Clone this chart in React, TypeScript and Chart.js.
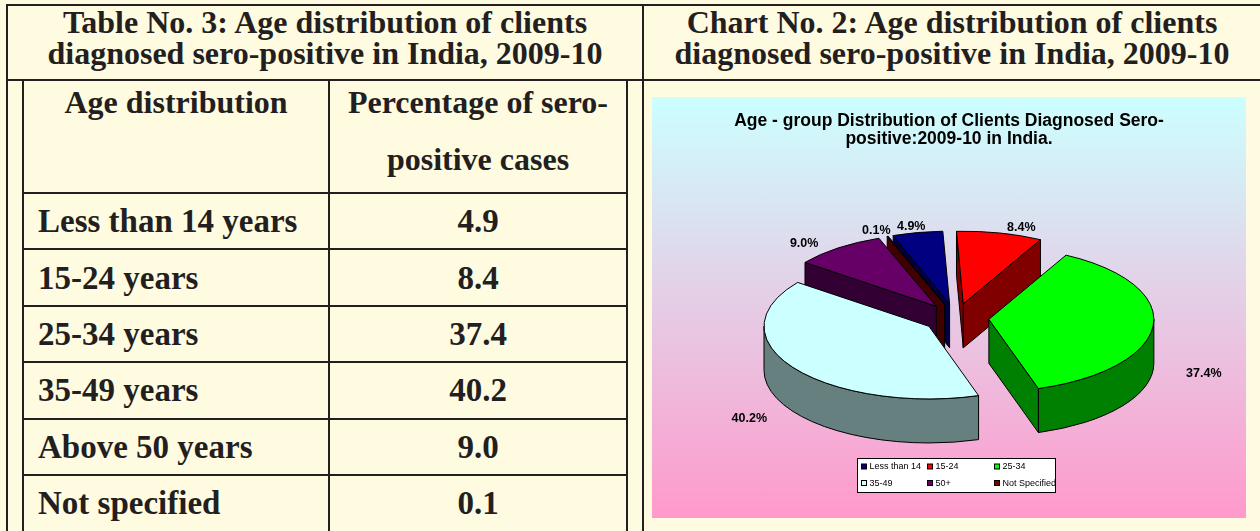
import React, { useEffect, useRef } from 'react';
import { Chart, registerables } from 'chart.js';

Chart.register(...registerables);

// ---------------- data ----------------
const categories = ['Less than 14', '15-24', '25-34', '35-49', '50+', 'Not Specified'];
const percentages = [4.9, 8.4, 37.4, 40.2, 9.0, 0.1];
const tableRowLabels = [
  'Less than 14 years',
  '15-24 years',
  '25-34 years',
  '35-49 years',
  'Above 50 years',
  'Not specified',
];
const tableTitleLines = ['Table No. 3: Age distribution of clients', 'diagnosed sero-positive in India, 2009-10'];
const chartPanelTitleLines = ['Chart No. 2: Age distribution of clients', 'diagnosed sero-positive in India, 2009-10'];
const headerCol1 = ['Age distribution'];
const headerCol2 = ['Percentage of sero-', 'positive cases'];
const chartTitleLines = ['Age - group Distribution of Clients Diagnosed Sero-', 'positive:2009-10 in India.'];
const sliceColors = ['#000080', '#FF0000', '#00FF00', '#CCFFFF', '#660066', '#800000'];
const sideColors = ['#000040', '#800000', '#008000', '#668080', '#330033', '#400000'];

// ---------------- styling constants ----------------
const LINE = '#231F20';
const CREAM = '#FFFBE1';
const SERIF = '"Liberation Serif", "Times New Roman", serif';
const SANS = '"Liberation Sans", Arial, sans-serif';
const TILT = 0.44;
const DEPTH = 44;

const pie3dPlugin = {
  id: 'pie3d',
  beforeDatasetsDraw(chart: any) {
    const meta = chart.getDatasetMeta(0);
    const ctx = chart.ctx as CanvasRenderingContext2D;
    const slices = meta.data.map((arc: any, i: number) => {
      const p = arc.getProps(['x', 'y', 'startAngle', 'endAngle', 'outerRadius'], true);
      const off = arc.options.offset || 0;
      const mid = (p.startAngle + p.endAngle) / 2;
      return {
        i,
        s: p.startAngle,
        e: p.endAngle,
        R: p.outerRadius,
        mid,
        cx: p.x + Math.cos(mid) * off,
        cy: p.y + TILT * Math.sin(mid) * off,
      };
    });
    slices.sort((a: any, b: any) => Math.sin(a.mid) - Math.sin(b.mid));
    ctx.save();
    ctx.lineWidth = 1;
    ctx.strokeStyle = '#000';
    ctx.lineJoin = 'round';
    for (const sl of slices) {
      const { cx, cy, R, s, e, i } = sl;
      const ry = R * TILT;
      const px = (a: number) => cx + R * Math.cos(a);
      const py = (a: number) => cy + ry * Math.sin(a);
      ctx.fillStyle = sideColors[i];
      const face = (a: number) => {
        ctx.beginPath();
        ctx.moveTo(cx, cy);
        ctx.lineTo(px(a), py(a));
        ctx.lineTo(px(a), py(a) + DEPTH);
        ctx.lineTo(cx, cy + DEPTH);
        ctx.closePath();
        ctx.fill();
        ctx.stroke();
      };
      if (Math.cos(s) < 0) face(s);
      if (Math.cos(e) > 0) face(e);
      for (const k of [-2, 0, 2]) {
        const a = Math.max(s, k * Math.PI);
        const b = Math.min(e, (k + 1) * Math.PI);
        if (b > a) {
          ctx.beginPath();
          ctx.ellipse(cx, cy, R, ry, 0, a, b);
          ctx.lineTo(px(b), py(b) + DEPTH);
          ctx.ellipse(cx, cy + DEPTH, R, ry, 0, b, a, true);
          ctx.closePath();
          ctx.fill();
          ctx.stroke();
        }
      }
      ctx.fillStyle = sliceColors[i];
      ctx.beginPath();
      ctx.moveTo(cx, cy);
      ctx.ellipse(cx, cy, R, ry, 0, s, e);
      ctx.closePath();
      ctx.fill();
      ctx.stroke();
    }
    ctx.restore();
    return false;
  },
  afterDraw(chart: any) {
    const ctx = chart.ctx as CanvasRenderingContext2D;
    const meta = chart.getDatasetMeta(0);
    const W = chart.width;
    ctx.save();
    // chart title
    ctx.fillStyle = '#000';
    ctx.font = `bold 17.5px ${SANS}`;
    ctx.textAlign = 'center';
    ctx.textBaseline = 'middle';
    chartTitleLines.forEach((t, k) => ctx.fillText(t, W / 2, 24 + k * 18));

    // data labels
    ctx.font = `bold 12.5px ${SANS}`;
    meta.data.forEach((arc: any, i: number) => {
      const p = arc.getProps(['x', 'y', 'startAngle', 'endAngle', 'outerRadius'], true);
      const m = (p.startAngle + p.endAngle) / 2;
      const sn = Math.sin(m);
      const cs = Math.cos(m);
      const x = p.x + 1.4 * p.outerRadius * cs;
      const y = p.y + 0.564 * p.outerRadius * sn + (sn > 0 ? DEPTH + 3 : 0);
      ctx.textAlign = cs > 0.15 ? 'left' : cs < -0.4 ? 'right' : 'center';
      ctx.fillText(percentages[i].toFixed(1) + '%', x, y);
    });

    // legend
    const cx = meta.data[0].x;
    const boxW = 198;
    const boxH = 34;
    const bx = Math.round(cx - boxW / 2) + 0.5;
    const by = 361.5;
    ctx.fillStyle = '#fff';
    ctx.fillRect(bx, by, boxW, boxH);
    ctx.strokeStyle = '#000';
    ctx.lineWidth = 1;
    ctx.strokeRect(bx, by, boxW, boxH);
    ctx.font = `9px ${SANS}`;
    ctx.textAlign = 'left';
    ctx.textBaseline = 'middle';
    const colX = [4, 70, 137];
    categories.forEach((c, i) => {
      const col = i % 3;
      const row = Math.floor(i / 3);
      const sx = bx + colX[col];
      const sy = by + 8.5 + row * 16.5;
      ctx.fillStyle = sliceColors[i];
      ctx.fillRect(sx, sy - 3, 5, 5);
      ctx.strokeStyle = '#000';
      ctx.strokeRect(sx, sy - 3, 5, 5);
      ctx.fillStyle = '#000';
      ctx.fillText(c, sx + 8, sy);
    });
    ctx.restore();
  },
};

function PieChart() {
  const ref = useRef<HTMLCanvasElement | null>(null);
  useEffect(() => {
    if (!ref.current) return;
    const chart = new Chart(ref.current, {
      type: 'pie',
      data: {
        labels: categories,
        datasets: [
          {
            data: percentages,
            backgroundColor: sliceColors,
            borderColor: '#000',
            borderWidth: 1,
            offset: 33,
          } as any,
        ],
      },
      options: {
        animation: false,
        responsive: true,
        maintainAspectRatio: false,
        events: [],
        rotation: -20,
        radius: 165,
        layout: { padding: { left: 14, top: 21, right: 0, bottom: 0 } },
        plugins: {
          legend: { display: false },
          title: { display: false },
          tooltip: { enabled: false },
        },
      } as any,
      plugins: [pie3dPlugin],
    });
    return () => chart.destroy();
  }, []);
  return (
    <div
      style={{
        position: 'absolute',
        left: 652,
        top: 97,
        width: 594,
        height: 421,
        background: 'linear-gradient(#CCFFFF, #FF99CC)',
      }}
    >
      <canvas ref={ref} />
    </div>
  );
}

const HL = ({ x, y, w }: { x: number; y: number; w: number }) => (
  <div style={{ position: 'absolute', left: x, top: y, width: w, height: 2, background: LINE }} />
);
const VL = ({ x, y, h }: { x: number; y: number; h: number }) => (
  <div style={{ position: 'absolute', left: x, top: y, width: 2, height: h, background: LINE }} />
);

const textBase: React.CSSProperties = {
  position: 'absolute',
  fontFamily: SERIF,
  fontWeight: 'bold',
  fontSize: 32,
  color: LINE,
  whiteSpace: 'nowrap',
};

export default function App() {
  const rowTop = 192;
  const rowH = 56.4;
  return (
    <div
      style={{
        position: 'fixed',
        left: 0,
        top: 0,
        width: 1260,
        height: 531,
        background: CREAM,
        overflow: 'hidden',
      }}
    >
      {/* frame */}
      <HL x={6} y={4} w={1260} />
      <VL x={6} y={4} h={540} />
      <HL x={6} y={79} w={1260} />
      <VL x={642} y={4} h={540} />
      <VL x={22} y={81} h={460} />
      <VL x={626} y={81} h={460} />
      <VL x={328} y={81} h={460} />
      {tableRowLabels.map((_, i) => (
        <HL key={'r' + i} x={22} y={Math.round(rowTop + i * rowH)} w={606} />
      ))}

      {/* panel titles */}
      {tableTitleLines.map((t, k) => (
        <div
          key={'tt' + k}
          style={{ ...textBase, left: 8, width: 634, top: 7 + k * 31, lineHeight: '31px', textAlign: 'center' }}
        >
          {t}
        </div>
      ))}
      {chartPanelTitleLines.map((t, k) => (
        <div
          key={'ct' + k}
          style={{ ...textBase, left: 644, width: 616, top: 7 + k * 31, lineHeight: '31px', textAlign: 'center' }}
        >
          {t}
        </div>
      ))}

      {/* table header */}
      {headerCol1.map((t, k) => (
        <div key={'h1' + k} style={{ ...textBase, left: 24, width: 304, top: 87 + k * 57, lineHeight: '30px', textAlign: 'center' }}>
          {t}
        </div>
      ))}
      {headerCol2.map((t, k) => (
        <div key={'h2' + k} style={{ ...textBase, left: 330, width: 296, top: 87 + k * 57, lineHeight: '30px', textAlign: 'center' }}>
          {t}
        </div>
      ))}

      {/* table rows */}
      {tableRowLabels.map((label, i) => {
        const center = rowTop + 2 + i * rowH + (rowH - 2) / 2;
        return (
          <React.Fragment key={'row' + i}>
            <div style={{ ...textBase, fontSize: 33, left: 38, top: center - 15, lineHeight: '30px' }}>{label}</div>
            <div
              style={{ ...textBase, fontSize: 33, left: 330, width: 296, top: center - 15, lineHeight: '30px', textAlign: 'center' }}
            >
              {percentages[i].toFixed(1)}
            </div>
          </React.Fragment>
        );
      })}

      <PieChart />
    </div>
  );
}
